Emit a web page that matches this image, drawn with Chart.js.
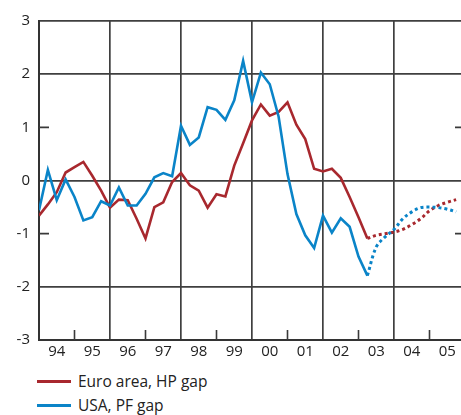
<!DOCTYPE html>
<html>
<head>
<meta charset="utf-8">
<script src="https://cdn.jsdelivr.net/npm/chart.js@4"></script>
<style>
  body { margin: 0; overflow: hidden; background: #fff; font-family: "Open Sans", sans-serif; }
  #wrap { position: relative; width: 461px; height: 415px; overflow: hidden; }
  #graph { position: absolute; left: 0; top: 0; }
  .leg { position: absolute; left: 37px; font-size: 15.5px; color: #222; white-space: nowrap; }
  .leg span { display: inline-block; width: 34px; height: 3px; vertical-align: middle; margin-right: 7px; position: relative; top: -1px; }
</style>
</head>
<body>
<div id="wrap">
  <canvas id="graph" width="468" height="360"></canvas>
  <div class="leg" style="top:370px"><span style="background:#a8282e"></span>Euro area, HP gap</div>
  <div class="leg" style="top:394px"><span style="background:#0a84c8"></span>USA, PF gap</div>
</div>
<script>
// quarterly, 1994Q1 .. 2005Q4 ; from 2003Q2 on = projection (dotted)
const startYear = 1994;
const lastActual = 37;

const euroGap = [-0.66, -0.45, -0.22, 0.15, 0.25, 0.35, 0.09, -0.19,
                 -0.51, -0.36, -0.37, -0.72, -1.09, -0.50, -0.41, -0.03,
                 0.14, -0.09, -0.19, -0.51, -0.26, -0.30, 0.28, 0.70,
                 1.13, 1.43, 1.22, 1.29, 1.47, 1.05, 0.78, 0.22,
                 0.17, 0.22, 0.05, -0.31, -0.69, -1.09, -1.03, -1.00,
                 -0.97, -0.92, -0.83, -0.72, -0.57, -0.47, -0.41, -0.36];

const usaGap = [-0.56, 0.20, -0.37, 0.02, -0.31, -0.75, -0.69, -0.39,
                -0.47, -0.13, -0.47, -0.47, -0.25, 0.06, 0.14, 0.08,
                1.03, 0.67, 0.81, 1.38, 1.33, 1.14, 1.51, 2.25,
                1.47, 2.03, 1.81, 1.20, 0.12, -0.63, -1.03, -1.27,
                -0.66, -0.98, -0.71, -0.87, -1.43, -1.79, -1.25, -1.06,
                -0.92, -0.72, -0.59, -0.51, -0.50, -0.51, -0.54, -0.59];

const yearLabels = ["94", "95", "96", "97", "98", "99", "00", "01", "02", "03", "04", "05"];
const gridYears = [1996, 1998, 2000, 2002, 2004];
const tickYears = [1995, 1997, 1999, 2001, 2003, 2005];
const gridValues = [-3, -2, 0, 2, 3];
const tickValues = [-1, 1];

const red = "#a8282e";
const blue = "#0a84c8";

function part(values, hist) {
    let pts = [];
    for (let i = 0; i < values.length; i++) {
        let ok = hist ? i <= lastActual : i >= lastActual;
        pts.push({ x: startYear + i / 4, y: ok ? values[i] : null });
    }
    return pts;
}

const innerTicks = {
    id: "innerTicks",
    beforeDatasetsDraw(chart) {
        const ctx = chart.ctx;
        const a = chart.chartArea;
        const x = chart.scales.x;
        const y = chart.scales.y;
        ctx.save();
        ctx.strokeStyle = "#3a3a3a";
        ctx.lineWidth = 1.6;
        ctx.beginPath();
        tickValues.forEach(v => {
            const py = y.getPixelForValue(v);
            ctx.moveTo(a.left, py); ctx.lineTo(a.left + 10, py);
            ctx.moveTo(a.right - 10, py); ctx.lineTo(a.right, py);
        });
        tickYears.forEach(v => {
            const px = x.getPixelForValue(v);
            ctx.moveTo(px, a.bottom); ctx.lineTo(px, a.bottom - 10);
        });
        ctx.stroke();
        ctx.restore();
    }
};

const ctx = document.getElementById("graph").getContext("2d");

new Chart(ctx, {
    type: "line",
    data: {
        datasets: [
            { data: part(usaGap, true), borderColor: blue, borderWidth: 2.6, pointRadius: 0, tension: 0 },
            { data: part(usaGap, false), borderColor: blue, borderWidth: 3, borderDash: [3, 3], pointRadius: 0, tension: 0.35 },
            { data: part(euroGap, true), borderColor: red, borderWidth: 2.6, pointRadius: 0, tension: 0 },
            { data: part(euroGap, false), borderColor: red, borderWidth: 3, borderDash: [3, 3], pointRadius: 0, tension: 0.35 }
        ]
    },
    options: {
        responsive: false,
        animation: false,
        spanGaps: false,
        layout: { padding: { top: 21, right: 0, bottom: 0, left: 0 } },
        plugins: { legend: { display: false }, tooltip: { enabled: false } },
        scales: {
            x: {
                type: "linear",
                min: startYear,
                max: startYear + yearLabels.length,
                afterBuildTicks: scale => {
                    let t = [];
                    for (let i = 0; i <= yearLabels.length; i++) {
                        t.push({ value: startYear + i });
                        if (i < yearLabels.length) t.push({ value: startYear + i + 0.5 });
                    }
                    scale.ticks = t;
                },
                afterFit: scale => { scale.height = 20; },
                grid: {
                    drawTicks: false,
                    color: c => (c.tick && gridYears.includes(c.tick.value)) ? "#3f3f3f" : "rgba(0,0,0,0)",
                    lineWidth: 1.7
                },
                border: { display: true, color: "#333", width: 2 },
                ticks: {
                    autoSkip: false,
                    maxRotation: 0,
                    padding: 3,
                    color: "#222",
                    font: { family: "Open Sans", size: 15 },
                    callback: v => {
                        let k = v - startYear - 0.5;
                        return Number.isInteger(k) ? yearLabels[k] : "";
                    }
                }
            },
            y: {
                min: -3,
                max: 3,
                afterFit: scale => { scale.width = 39; },
                grid: {
                    drawTicks: false,
                    color: c => (c.tick && gridValues.includes(c.tick.value)) ? "#3f3f3f" : "rgba(0,0,0,0)",
                    lineWidth: 1.7
                },
                border: { display: true, color: "#333", width: 2 },
                ticks: {
                    stepSize: 1,
                    padding: 9,
                    color: "#222",
                    font: { family: "Open Sans", size: 15 }
                }
            }
        }
    },
    plugins: [innerTicks]
});
</script>
</body>
</html>
